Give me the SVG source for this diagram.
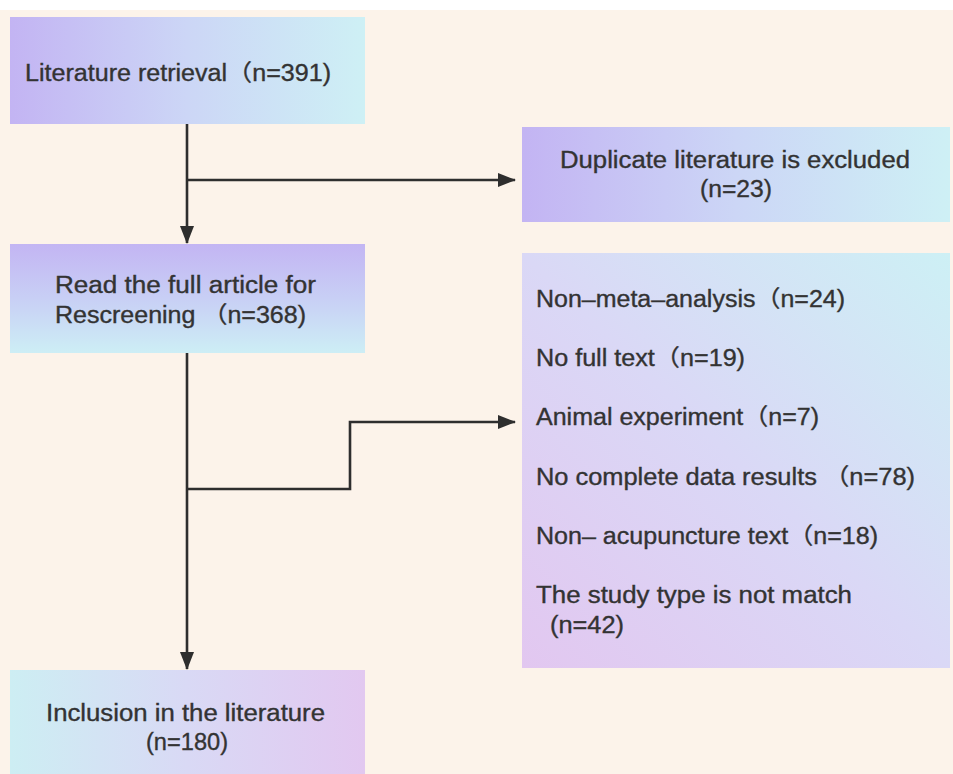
<svg xmlns="http://www.w3.org/2000/svg" width="953" height="774" viewBox="0 0 953 774">
<defs>
<linearGradient id="gH" x1="0" y1="0" x2="1" y2="0"><stop offset="0" stop-color="#C3B4F3"/><stop offset="0.5" stop-color="#CCD6F6"/><stop offset="1" stop-color="#CEF0F5"/></linearGradient>
<linearGradient id="gV" x1="0" y1="0" x2="0" y2="1"><stop offset="0" stop-color="#C3B5F3"/><stop offset="0.5" stop-color="#C8CFF5"/><stop offset="1" stop-color="#CDEEF5"/></linearGradient>
<linearGradient id="gD" x1="0" y1="1" x2="1" y2="0"><stop offset="0" stop-color="#E2C7F0"/><stop offset="0.5" stop-color="#DAD8F6"/><stop offset="1" stop-color="#CDF0F5"/></linearGradient>
<linearGradient id="gR" x1="0" y1="0" x2="1" y2="0"><stop offset="0" stop-color="#CDEEF3"/><stop offset="0.5" stop-color="#D9D9F5"/><stop offset="1" stop-color="#E2C8F0"/></linearGradient>
<marker id="ah" markerWidth="18" markerHeight="14" refX="17" refY="7" orient="auto" markerUnits="userSpaceOnUse"><path d="M0,0 L18,7 L0,14 Z" fill="#2E2E2E"/></marker>
<style>
text{font-family:"Liberation Sans","Noto Sans CJK SC",sans-serif;font-size:23px;fill:#333333;stroke:#333333;stroke-width:0.35}
.c{text-anchor:middle}
.ln{fill:none;stroke:#2E2E2E;stroke-width:2.6}
</style>
</defs>
<rect width="953" height="774" fill="#FCF3EA"/>
<rect width="953" height="10" fill="#FFFFFF"/>
<g id="n1"><rect x="10" y="17" width="355" height="107" fill="url(#gH)"/><text x="25" y="81" textLength="306" lengthAdjust="spacingAndGlyphs">Literature retrieval（n=391)</text></g>
<g id="n2"><rect x="522" y="127" width="428" height="95" fill="url(#gH)"/><text class="c" x="735" y="168" textLength="350" lengthAdjust="spacingAndGlyphs">Duplicate literature is excluded</text><text class="c" x="736" y="197" textLength="72" lengthAdjust="spacingAndGlyphs">(n=23)</text></g>
<g id="n3"><rect x="10" y="244" width="355" height="109" fill="url(#gV)"/><text x="55" y="293" textLength="261" lengthAdjust="spacingAndGlyphs">Read the full article for</text><text x="55" y="323" textLength="251" lengthAdjust="spacingAndGlyphs">Rescreening （n=368)</text></g>
<g id="n4"><rect x="522" y="253" width="428" height="415" fill="url(#gD)"/>
<text x="536" y="307" textLength="309" lengthAdjust="spacingAndGlyphs">Non–meta–analysis（n=24)</text>
<text x="536" y="366" textLength="209" lengthAdjust="spacingAndGlyphs">No full text（n=19)</text>
<text x="536" y="425" textLength="283" lengthAdjust="spacingAndGlyphs">Animal experiment（n=7)</text>
<text x="536" y="485" textLength="379" lengthAdjust="spacingAndGlyphs">No complete data results （n=78)</text>
<text x="536" y="544" textLength="342" lengthAdjust="spacingAndGlyphs">Non– acupuncture text（n=18)</text>
<text x="536" y="603" textLength="316" lengthAdjust="spacingAndGlyphs">The study type is not match</text>
<text x="550" y="633" textLength="74" lengthAdjust="spacingAndGlyphs">(n=42)</text></g>
<g id="n5"><rect x="10" y="670" width="355" height="104" fill="url(#gR)"/><text x="46" y="721" textLength="279" lengthAdjust="spacingAndGlyphs">Inclusion in the literature</text><text x="146" y="750" textLength="82" lengthAdjust="spacingAndGlyphs">(n=180)</text></g>
<g id="connectors">
<path class="ln" d="M187,124 V243" marker-end="url(#ah)"/>
<path class="ln" d="M187,180 H515" marker-end="url(#ah)"/>
<path class="ln" d="M187,353 V669" marker-end="url(#ah)"/>
<path class="ln" d="M187,489 H350 V422 H515" marker-end="url(#ah)"/>
</g>
</svg>
